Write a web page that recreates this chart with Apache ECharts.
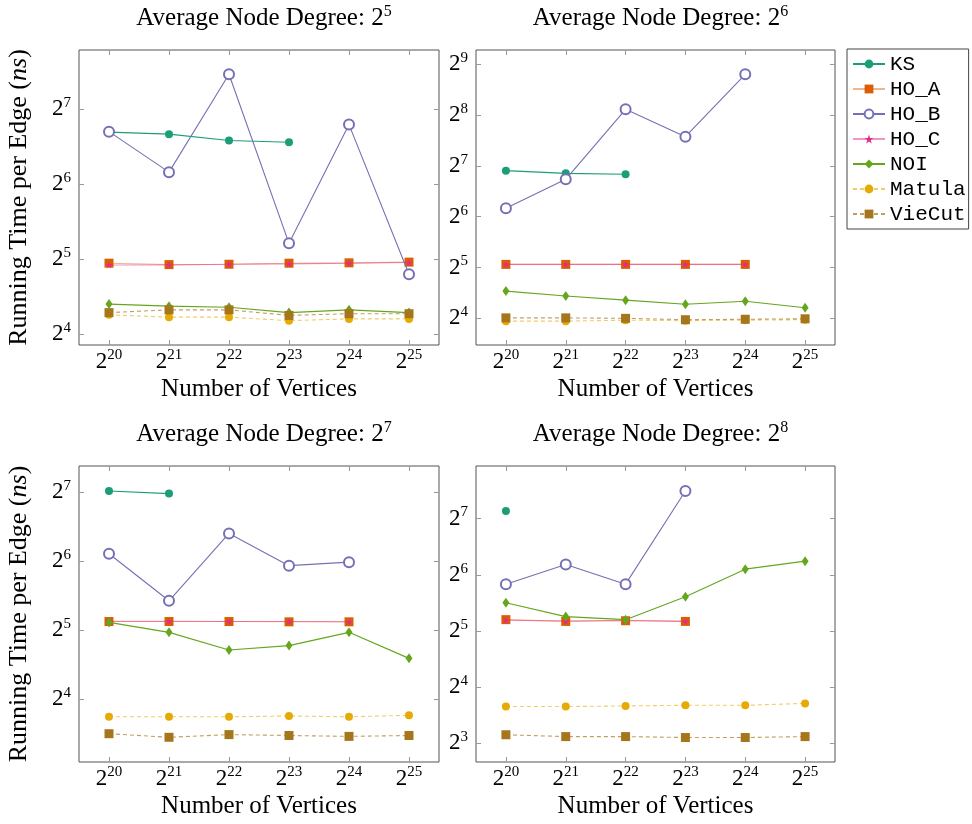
<!DOCTYPE html>
<html>
<head>
<meta charset="utf-8">
<script src="https://cdn.jsdelivr.net/npm/echarts@6/dist/echarts.min.js"></script>
<style>
  html, body { margin: 0; padding: 0; background: #fff; }
  #chart { width: 972px; height: 824px; }
</style>
</head>
<body>
<div id="chart"></div>
<script>
// x: number of vertices as powers of two
const xExponents = [20, 21, 22, 23, 24, 25];
const degreeExponents = [5, 6, 7, 8];
const methods = ['KS', 'HO_A', 'HO_B', 'HO_C', 'NOI', 'Matula', 'VieCut'];

// running time per edge (ns); null = no run
const ks_d5     = [103.5, 101.6, 95.8, 94.3, null, null];
const hoA_d5    = [30.8, 30.4, 30.5, 30.8, 30.9, 31.1];
const hoB_d5    = [104.0, 71.5, 176.9, 37.0, 111.0, 27.8];
const hoC_d5    = [30.3, 30.3, 30.5, 30.6, 30.8, 31.0];
const noi_d5    = [21.1, 20.7, 20.5, 19.5, 20.0, 19.5];
const matula_d5 = [19.1, 18.7, 18.7, 18.1, 18.4, 18.4];
const viecut_d5 = [19.5, 20.0, 20.0, 19.0, 19.3, 19.3];

const ks_d6     = [120.0, 115.7, 114.2, null, null, null];
const hoA_d6    = [33.4, 33.4, 33.4, 33.4, 33.4, null];
const hoB_d6    = [71.8, 106.6, 277.0, 190.7, 446.7, null];
const hoC_d6    = [33.4, 33.4, 33.4, 33.4, 33.4, null];
const noi_d6    = [23.2, 21.7, 20.5, 19.4, 20.2, 18.5];
const matula_d6 = [15.4, 15.4, 15.6, 15.5, 15.6, 15.7];
const viecut_d6 = [16.1, 16.1, 16.0, 15.7, 15.8, 15.9];

const ks_d7     = [129.7, 126.3, null, null, null, null];
const hoA_d7    = [34.9, 34.9, 34.9, 34.8, 34.8, null];
const hoB_d7    = [69.0, 43.0, 84.6, 61.2, 63.4, null];
const hoC_d7    = [35.0, 35.0, 34.9, 34.9, 34.8, null];
const noi_d7    = [34.6, 31.3, 26.2, 27.4, 31.3, 24.1];
const matula_d7 = [13.4, 13.4, 13.4, 13.5, 13.4, 13.6];
const viecut_d7 = [11.3, 10.9, 11.2, 11.1, 11.0, 11.1];

const ks_d8     = [140.7, null, null, null, null, null];
const hoA_d8    = [36.8, 36.0, 36.3, 36.0, null, null];
const hoB_d8    = [57.0, 72.6, 57.0, 179.9, null, null];
const hoC_d8    = [36.5, 36.2, 36.5, 36.0, null, null];
const noi_d8    = [45.3, 38.2, 36.8, 48.8, 68.6, 75.7];
const matula_d8 = [12.6, 12.6, 12.7, 12.8, 12.8, 13.1];
const viecut_d8 = [8.9, 8.7, 8.7, 8.6, 8.6, 8.7];

// y tick labels (powers of two) per panel
const yTicks_d5 = [4, 5, 6, 7];
const yTicks_d6 = [4, 5, 6, 7, 8, 9];
const yTicks_d7 = [4, 5, 6, 7];
const yTicks_d8 = [3, 4, 5, 6, 7];

const runTimes = [
    [ks_d5, hoA_d5, hoB_d5, hoC_d5, noi_d5, matula_d5, viecut_d5],
    [ks_d6, hoA_d6, hoB_d6, hoC_d6, noi_d6, matula_d6, viecut_d6],
    [ks_d7, hoA_d7, hoB_d7, hoC_d7, noi_d7, matula_d7, viecut_d7],
    [ks_d8, hoA_d8, hoB_d8, hoC_d8, noi_d8, matula_d8, viecut_d8],
];
const yTicks = [yTicks_d5, yTicks_d6, yTicks_d7, yTicks_d8];

const SERIF = '"Liberation Serif", "Times New Roman", serif';
const MONO = '"Liberation Mono", "DejaVu Sans Mono", monospace';

// panel layout (px) and visible log2 range
const panels = [
    { grid: { left: 79, top: 50, width: 360, height: 295 }, yMin: 3.853, yMax: 7.79, yName: true },
    { grid: { left: 476, top: 50, width: 359, height: 295 }, yMin: 3.475, yMax: 9.282, yName: false },
    { grid: { left: 79, top: 466, width: 360, height: 296 }, yMin: 3.088, yMax: 7.381, yName: true },
    { grid: { left: 476, top: 466, width: 359, height: 296 }, yMin: 2.669, yMax: 7.935, yName: false },
];

const star = 'path://M10 0 L12.35 6.76 L19.51 6.91 L13.8 11.24 L15.88 18.09 L10 14 L4.12 18.09 L6.2 11.24 L0.49 6.91 L7.65 6.76 Z';

const styles = {
    KS:     { mark: '#1b9e77', line: '#1b9e77', symbol: 'circle', size: 8, dash: 'solid' },
    HO_A:   { mark: '#d95f02', line: 'rgba(217,95,2,0.45)', symbol: 'rect', size: 9, dash: 'solid' },
    HO_B:   { mark: '#7570b3', line: '#7570b3', symbol: 'emptyCircle', size: 10, dash: 'solid' },
    HO_C:   { mark: '#e7298a', line: 'rgba(231,41,138,0.5)', symbol: star, size: 7, dash: 'solid' },
    NOI:    { mark: '#66a61e', line: '#66a61e', symbol: 'diamond', size: [7, 10], dash: 'solid' },
    Matula: { mark: '#e6ab02', line: 'rgba(230,171,2,0.6)', symbol: 'circle', size: 8, dash: [4, 3] },
    VieCut: { mark: '#a6761d', line: 'rgba(166,118,29,0.7)', symbol: 'rect', size: 9, dash: [4, 3] },
};

const powRich = {
    b: { fontFamily: SERIF, fontSize: 23, color: '#000', verticalAlign: 'bottom', lineHeight: 23 },
    s: { fontFamily: SERIF, fontSize: 15, color: '#000', verticalAlign: 'bottom', lineHeight: 15, padding: [0, 0, 10, 0] },
};
const powLabel = (v) => '{b|2}{s|' + v + '}';

const grids = [], xAxes = [], yAxes = [], series = [], titles = [];

panels.forEach((p, i) => {
    grids.push(Object.assign({ show: true, borderColor: '#555', borderWidth: 1, backgroundColor: 'transparent' }, p.grid));

    const tickStyle = { inside: true, length: 5, lineStyle: { color: '#999' }, customValues: xExponents };
    xAxes.push({
        type: 'value', gridIndex: i, min: 19.5, max: 25.5,
        axisLine: { show: false }, splitLine: { show: false },
        axisTick: tickStyle,
        axisLabel: { customValues: xExponents, formatter: powLabel, rich: powRich, margin: 5 },
        name: 'Number of Vertices', nameLocation: 'middle', nameGap: 32,
        nameTextStyle: { fontFamily: SERIF, fontSize: 25, color: '#000' },
    });
    xAxes.push({
        type: 'value', gridIndex: i, position: 'top', min: 19.5, max: 25.5,
        axisLine: { show: false }, splitLine: { show: false },
        axisTick: tickStyle, axisLabel: { show: false },
    });

    const yTick = { inside: true, length: 5, lineStyle: { color: '#999' }, customValues: yTicks[i] };
    yAxes.push({
        type: 'value', gridIndex: i, min: p.yMin, max: p.yMax,
        axisLine: { show: false }, splitLine: { show: false },
        axisTick: yTick,
        axisLabel: { customValues: yTicks[i], formatter: powLabel, rich: powRich, margin: 8 },
        name: p.yName ? 'Running Time per Edge ({i|ns})' : '',
        nameLocation: 'middle', nameGap: 47,
        nameTextStyle: {
            fontFamily: SERIF, fontSize: 26, color: '#000',
            rich: { i: { fontFamily: SERIF, fontSize: 26, fontStyle: 'italic', color: '#000' } },
        },
    });
    yAxes.push({
        type: 'value', gridIndex: i, position: 'right', min: p.yMin, max: p.yMax,
        axisLine: { show: false }, splitLine: { show: false },
        axisTick: yTick, axisLabel: { show: false },
    });

    titles.push({
        text: '{t|Average Node Degree: 2}{s|' + degreeExponents[i] + '}',
        left: p.grid.left + p.grid.width / 2,
        top: p.grid.top - 50,
        textAlign: 'center',
        textStyle: {
            fontWeight: 'normal',
            rich: {
                t: { fontFamily: SERIF, fontSize: 25, fontWeight: 'normal', color: '#000', verticalAlign: 'bottom', lineHeight: 26 },
                s: { fontFamily: SERIF, fontSize: 16, fontWeight: 'normal', color: '#000', verticalAlign: 'bottom', lineHeight: 16, padding: [0, 0, 11, 0] },
            },
        },
    });

    methods.forEach((m, j) => {
        const st = styles[m];
        const vals = runTimes[i][j];
        const pts = [];
        vals.forEach((v, k) => { if (v != null) pts.push([xExponents[k], Math.log2(v)]); });
        series.push({
            name: m, type: 'line',
            xAxisIndex: 2 * i, yAxisIndex: 2 * i,
            data: pts,
            symbol: st.symbol, symbolSize: st.size, showSymbol: true,
            itemStyle: { color: st.mark, borderWidth: 1 },
            lineStyle: { color: st.line, width: 1.1, type: st.dash },
            emphasis: { disabled: true },
            z: 2 + j,
        });
    });
});

const chart = echarts.init(document.getElementById('chart'));
chart.setOption({
    animation: false,
    title: titles,
    grid: grids,
    xAxis: xAxes,
    yAxis: yAxes,
    legend: {
        data: methods,
        orient: 'vertical',
        left: 847, top: 49,
        padding: [4, 3, 4, 5],
        itemWidth: 32, itemHeight: 11, itemGap: 3,
        borderColor: '#444', borderWidth: 1, borderRadius: 0,
        textStyle: { fontFamily: MONO, fontSize: 21, color: '#000', lineHeight: 22 },
        selectedMode: false,
    },
    series: series,
});
</script>
</body>
</html>
